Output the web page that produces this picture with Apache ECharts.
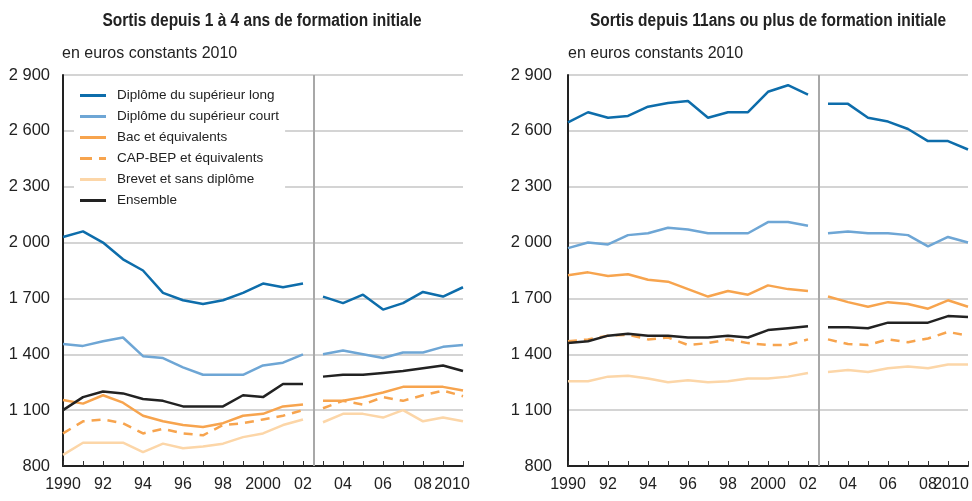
<!DOCTYPE html>
<html>
<head>
<meta charset="utf-8">
<script src="https://cdn.jsdelivr.net/npm/echarts@6/dist/echarts.min.js"></script>
<style>
  html, body { margin: 0; padding: 0; background: #fff; }
  #chart { width: 972px; height: 501px; }
</style>
</head>
<body>
<div id="chart"></div>
<script>
const years = [1990,1991,1992,1993,1994,1995,1996,1997,1998,1999,2000,2001,2002,2003,2004,2005,2006,2007,2008,2009,2010]
const xTickLabels = ['1990','92','94','96','98','2000','02','04','06','08','2010']
const yTicks = [800, 1100, 1400, 1700, 2000, 2300, 2600, 2900]
const seriesNames = ['Diplôme du supérieur long','Diplôme du supérieur court','Bac et équivalents','CAP-BEP et équivalents','Brevet et sans diplôme','Ensemble']

// sortis depuis 1 à 4 ans
const shortLong     = [2030,2060,2000,1910,1850,1730,1690,1670,1690,1730,1780,1760,1780, 1710,1675,1720,1640,1675,1735,1710,1760]
const shortCourt    = [1455,1445,1470,1490,1390,1380,1330,1290,1290,1290,1340,1355,1400, 1400,1420,1400,1380,1410,1410,1440,1450]
const shortBac      = [1155,1135,1180,1140,1070,1040,1020,1010,1030,1070,1080,1120,1130, 1150,1150,1170,1195,1225,1225,1225,1205]
const shortCap      = [975,1040,1050,1030,975,1000,975,965,1020,1030,1050,1070,1100, 1110,1150,1130,1170,1150,1180,1205,1175]
const shortBrevet   = [860,925,925,925,875,920,895,905,920,955,975,1020,1050, 1035,1080,1080,1060,1100,1040,1060,1040]
const shortEnsemble = [1100,1170,1200,1190,1160,1150,1120,1120,1120,1180,1170,1240,1240, 1280,1290,1290,1300,1310,1325,1340,1310]

// sortis depuis 11 ans ou plus
const oldLong     = [2645,2700,2670,2680,2730,2750,2760,2670,2700,2700,2810,2845,2795, 2745,2745,2670,2650,2610,2545,2545,2500]
const oldCourt    = [1970,2000,1990,2040,2050,2080,2070,2050,2050,2050,2110,2110,2090, 2050,2060,2050,2050,2040,1980,2030,2000]
const oldBac      = [1825,1840,1820,1830,1800,1790,1750,1710,1740,1720,1770,1750,1740, 1710,1680,1655,1680,1670,1645,1690,1655]
const oldCap      = [1470,1480,1500,1505,1480,1490,1450,1460,1480,1460,1450,1450,1480, 1480,1455,1450,1480,1465,1485,1520,1500]
const oldBrevet   = [1255,1255,1280,1285,1270,1250,1260,1250,1255,1270,1270,1280,1300, 1305,1315,1305,1325,1335,1325,1345,1345]
const oldEnsemble = [1460,1470,1500,1510,1500,1500,1490,1490,1500,1490,1530,1540,1550, 1545,1545,1540,1570,1570,1570,1605,1600]

const breakYear = 2002.55

const colors = ['#0d6dab', '#6ea6d5', '#f7a44e', '#f7a44e', '#fcd6a8', '#222222']
const FONT = "'Liberation Sans', Arial, sans-serif"
const SOLID_ICON = 'path://M0,0h26v3h-26z'
const DASH_ICON = 'path://M0,0h12v3h-12z M19,0h7v3h-7z'

function toData (vals) {
    const out = []
    years.forEach((y, i) => {
        out.push([y, vals[i]])
        if (y === 2002) out.push([breakYear, '-'])
    })
    return out
}

function yLabel (v) {
    if (v < 1000) return String(v)
    return Math.floor(v / 1000) + ' ' + String(v % 1000).padStart(3, '0')
}

function xAxisFor (idx, lastPad) {
    return {
        type: 'value', gridIndex: idx, min: 1990, max: 2010, interval: 1,
        axisLine: { lineStyle: { color: '#222', width: 2 } },
        axisTick: { inside: true, length: 5, lineStyle: { color: '#333', width: 1 } },
        splitLine: { show: false },
        axisLabel: {
            margin: 11, color: '#222', fontSize: 16, fontFamily: FONT,
            formatter: v => {
                if ((v - 1990) % 2) return ''
                const t = xTickLabels[(v - 1990) / 2]
                return v === 2010 ? '{last|' + t + '}' : t
            },
            rich: { last: { fontSize: 16, fontFamily: FONT, color: '#222', padding: [0, lastPad, 0, 0] } }
        }
    }
}

function yAxisFor (idx, margin) {
    return {
        type: 'value', gridIndex: idx, min: yTicks[0], max: yTicks[yTicks.length - 1], interval: 300,
        axisLine: { show: true, lineStyle: { color: '#222', width: 2 } },
        axisTick: { show: false },
        splitLine: { lineStyle: { color: '#c6c6c6', width: 1.5 } },
        axisLabel: { margin, color: '#222', fontSize: 16.5, fontFamily: FONT, formatter: yLabel }
    }
}

function panelSeries (idx, arrays) {
    return arrays.map((vals, i) => {
        const s = {
            name: seriesNames[i], type: 'line', xAxisIndex: idx, yAxisIndex: idx,
            symbol: 'none', connectNulls: false, silent: true,
            data: toData(vals),
            itemStyle: { color: colors[i] },
            lineStyle: { color: colors[i], width: 2.5, type: i === 3 ? [9, 7] : 'solid' },
            z: i === 5 ? 5 : 3
        }
        if (i === 0) {
            s.markLine = {
                silent: true, symbol: 'none', label: { show: false },
                lineStyle: { color: '#a8a8a8', type: 'solid', width: 2 },
                data: [{ xAxis: breakYear }]
            }
        }
        return s
    })
}

const chart = echarts.init(document.getElementById('chart'))
chart.setOption({
    animation: false,
    textStyle: { fontFamily: FONT },
    graphic: [
        { type: 'text', x: 262, y: 21.5, scaleX: 0.86,
          style: { text: 'Sortis depuis 1 à 4 ans de formation initiale', font: 'bold 18px ' + FONT, fill: '#222', textAlign: 'center', textVerticalAlign: 'middle' } },
        { type: 'text', x: 768, y: 21.5, scaleX: 0.86,
          style: { text: 'Sortis depuis 11ans ou plus de formation initiale', font: 'bold 18px ' + FONT, fill: '#222', textAlign: 'center', textVerticalAlign: 'middle' } },
        { type: 'text', x: 62, y: 54,
          style: { text: 'en euros constants 2010', font: '16px ' + FONT, fill: '#222', textAlign: 'left', textVerticalAlign: 'middle' } },
        { type: 'text', x: 568, y: 54,
          style: { text: 'en euros constants 2010', font: '16px ' + FONT, fill: '#222', textAlign: 'left', textVerticalAlign: 'middle' } }
    ],
    legend: {
        orient: 'vertical', left: 74, top: 81,
        data: seriesNames.map((n, i) => ({ name: n, icon: i === 3 ? DASH_ICON : SOLID_ICON })),
        backgroundColor: '#fff', padding: [4, 6, 4, 6],
        itemWidth: 26, itemHeight: 3, itemGap: 0,
        textStyle: { fontSize: 13.5, fontFamily: FONT, color: '#222', lineHeight: 21, padding: [0, 0, 0, 6] }
    },
    grid: [
        { left: 63, top: 75, width: 400, height: 391 },
        { left: 568, top: 75, width: 400, height: 391 }
    ],
    xAxis: [xAxisFor(0, 22), xAxisFor(1, 34)],
    yAxis: [yAxisFor(0, 13), yAxisFor(1, 16)],
    series: panelSeries(0, [shortLong, shortCourt, shortBac, shortCap, shortBrevet, shortEnsemble])
        .concat(panelSeries(1, [oldLong, oldCourt, oldBac, oldCap, oldBrevet, oldEnsemble]))
})
</script>
</body>
</html>
